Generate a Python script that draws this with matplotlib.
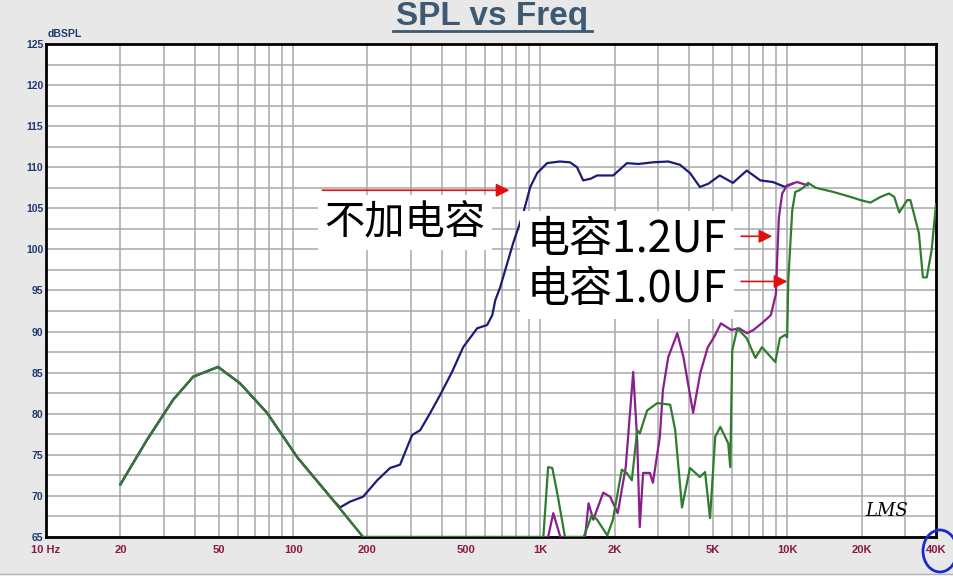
import numpy as np
import matplotlib
matplotlib.use("Agg")
import matplotlib.pyplot as plt
from matplotlib.ticker import FixedLocator, NullFormatter
from matplotlib.patches import Ellipse
from matplotlib.lines import Line2D

# shared low-frequency hump (all three curves)
freq_low = [20, 25.6, 32.7, 39.4, 49.7, 61, 78.5, 104, 145]
spl_low = [71.4, 76.8, 81.7, 84.5, 85.7, 83.7, 80.1, 74.7, 69.5]

# no capacitor (blue)
blue_f = [155, 170, 192, 219, 247, 271, 303, 327, 359, 394, 440, 488, 556, 610, 640, 658,
          689, 778, 854, 912, 973, 1067, 1200, 1321, 1410, 1493, 1600, 1700, 1975, 2245,
          2500, 2860, 3300, 3680, 4040, 4430, 4800, 5330, 6030, 6860, 7780, 8750, 9800, 10500]
blue_db = [68.6, 69.3, 69.9, 71.9, 73.4, 73.8, 77.4, 78.0, 80.1, 82.3, 85.1, 88.1, 90.4, 90.8, 92.0, 93.8,
           95.4, 100.8, 104.4, 107.6, 109.3, 110.5, 110.7, 110.6, 110.0, 108.4, 108.6, 109.0, 109.0, 110.5,
           110.4, 110.6, 110.7, 110.3, 109.3, 107.6, 108.0, 109.0, 108.1, 109.6, 108.4, 108.2, 107.6, 108.0]

# 1.2uF (purple)
purple_f = [192, 1077, 1130, 1207, 1520, 1570, 1640, 1800, 1920, 2060, 2220, 2380, 2470, 2530, 2610,
            2780, 2860, 3050, 3140, 3300, 3590, 3800, 4160, 4450, 4770, 5050, 5390, 5930, 6400, 6870,
            7300, 8020, 8580, 9000, 9100, 9250, 9540, 9990, 10960, 12100]
purple_db = [65, 65, 67.9, 65, 65, 69.1, 67.1, 70.4, 69.9, 67.9, 73.5, 85.1, 76.8, 66.2, 72.8,
             72.8, 71.6, 77.2, 82.9, 86.9, 89.8, 86.9, 80.1, 85.0, 88.1, 89.3, 91.0, 90.2, 90.4, 89.8,
             90.2, 91.2, 92.0, 94.6, 98.7, 103.9, 106.8, 107.8, 108.2, 107.8]

# 1.0uF (green)
green_f = [192, 1030, 1077, 1120, 1180, 1260, 1500, 1620, 1700, 1870, 1970, 2140, 2240, 2350, 2470,
           2530, 2710, 2980, 3360, 3520, 3750, 4040, 4430, 4650, 4870, 5110, 5360, 5770, 5880, 5990,
           6280, 6850, 7430, 7900, 8950, 9340, 9800, 9990, 10100, 10480, 10780, 11200, 11690, 12140,
           13050, 15340, 18000, 19800, 21700, 23900, 25800, 27100, 28400, 30600, 31500, 34100, 35400,
           36700, 38400, 40000]
green_db = [65, 65, 73.5, 73.4, 69.9, 65, 65, 67.7, 67.1, 65.2, 67.1, 73.2, 72.8, 71.9, 78.0,
            77.6, 80.4, 81.3, 81.1, 78.0, 68.6, 73.4, 72.3, 72.9, 67.3, 77.2, 78.4, 76.4, 73.5, 87.7,
            90.4, 89.2, 86.8, 88.1, 86.3, 89.2, 89.6, 89.3, 96.3, 104.8, 107.0, 107.2, 107.6, 108.1,
            107.5, 107.0, 106.4, 106.0, 105.7, 106.4, 106.8, 106.4, 104.5, 106.0, 106.0, 102.0, 96.6,
            96.6, 99.9, 105.5]

x_ticks = [10, 20, 50, 100, 200, 500, 1000, 2000, 5000, 10000, 20000, 40000]
x_labels = ["10 Hz", "20", "50", "100", "200", "500", "1K", "2K", "5K", "10K", "20K", "40K"]
y_ticks = list(range(65, 126, 5))

fig = plt.figure(figsize=(9.54, 5.86), dpi=100, facecolor="#e8e8e8")
ax = fig.add_axes([46 / 954, 1 - 537 / 586, 890 / 954, 493 / 586])
ax.set_facecolor("white")
ax.set_xscale("log")
ax.set_xlim(10, 40000)
ax.set_ylim(65, 125)

ax.xaxis.set_major_locator(FixedLocator(x_ticks))
ax.set_xticklabels(x_labels)
minor = [m * 10 ** d for d in range(1, 5) for m in range(1, 10) if m * 10 ** d <= 40000]
ax.xaxis.set_minor_locator(FixedLocator(minor))
ax.xaxis.set_minor_formatter(NullFormatter())
ax.yaxis.set_major_locator(FixedLocator(y_ticks))
ax.yaxis.set_minor_locator(FixedLocator(np.arange(67.5, 125, 5)))
ax.grid(True, which="both", color="#a8a8a8", linewidth=1.1)
ax.set_axisbelow(True)
ax.tick_params(which="both", length=0)
ax.tick_params(axis="x", pad=6, labelsize=8, labelcolor="#8b1a40")
ax.tick_params(axis="y", pad=2, labelsize=7.5, labelcolor="#1f3a6e")
for lab in ax.get_xticklabels() + ax.get_yticklabels():
    lab.set_fontweight("bold")
    lab.set_family("Liberation Sans")
for s in ax.spines.values():
    s.set_linewidth(2)
    s.set_color("black")

lw = 1.6
ax.plot(freq_low + blue_f, spl_low + blue_db, color="#1c1c78", lw=lw, zorder=3)
ax.plot(freq_low + purple_f, spl_low + purple_db, color="#8a1e8e", lw=lw, zorder=4)
ax.plot(freq_low + green_f, spl_low + green_db, color="#2e7d2e", lw=lw, zorder=5)

cjk = ["Noto Sans CJK SC", "DejaVu Sans"]
box = dict(facecolor="white", edgecolor="none", pad=5)
ax.text(284, 103.3, "不加电容", family=cjk, fontsize=29, ha="center", va="center", bbox=box, zorder=6)
ax.text(2250, 101.1, "电容1.2UF", family=cjk, fontsize=31, ha="center", va="center", bbox=box, zorder=6)
ax.text(2250, 95.0, "电容1.0UF", family=cjk, fontsize=31, ha="center", va="center", bbox=box, zorder=6)

arrow = dict(arrowstyle="-|>", color="#e01010", lw=1.2, mutation_scale=20)
ax.annotate("", xy=(771, 107.2), xytext=(128, 107.2), arrowprops=arrow, zorder=7)
ax.annotate("", xy=(8930, 101.6), xytext=(6340, 101.6), arrowprops=arrow, zorder=7)
ax.annotate("", xy=(10280, 96.1), xytext=(6340, 96.1), arrowprops=arrow, zorder=7)

ax.text(0.945, 0.035, "LMS", transform=ax.transAxes, fontsize=13, style="italic",
        family="DejaVu Serif", ha="center", va="bottom", zorder=6)

# title with underline
fig.text(492 / 954, 1 - 17 / 586, "SPL vs Freq", family="Liberation Sans", fontweight="bold",
         fontsize=24, color="#3d5a72", ha="center", va="center")
fig.add_artist(Line2D([393 / 954, 592 / 954], [1 - 31 / 586] * 2, color="#3d5a72", lw=2))
fig.text(48 / 954, 1 - 34 / 586, "dBSPL", family="Liberation Sans", fontweight="bold",
         fontsize=7.5, color="#1f3a6e", ha="left", va="center")

# bottom strip and hand-drawn circle
fig.add_artist(plt.Rectangle((0, 0), 1, 12 / 586, transform=fig.transFigure,
                             facecolor="white", edgecolor="none"))
fig.add_artist(Line2D([0, 1], [12 / 586] * 2, color="#b0b0b0", lw=1))
fig.add_artist(Ellipse((940 / 954, 1 - 551 / 586), 34 / 954, 42 / 586, transform=fig.transFigure,
                       fill=False, edgecolor="#1a2ad0", lw=2))

fig.savefig("out.png", dpi=100, facecolor=fig.get_facecolor())
